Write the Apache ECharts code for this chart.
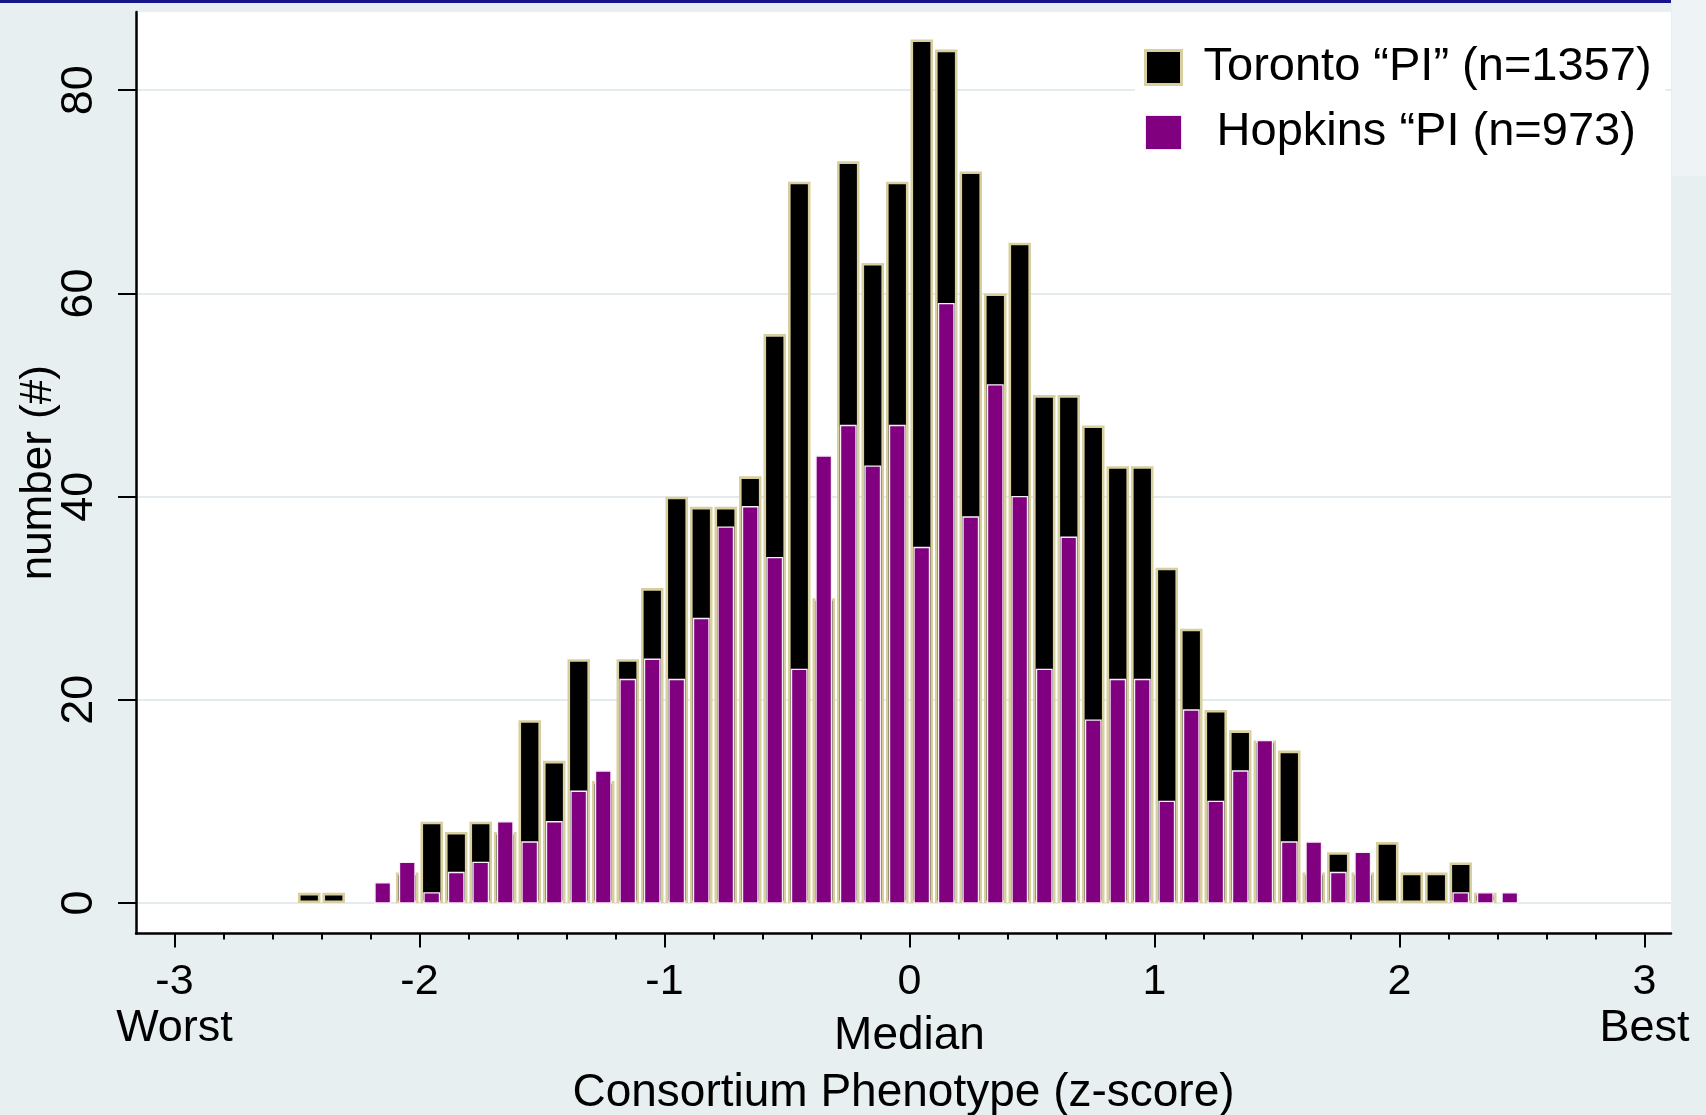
<!DOCTYPE html>
<html>
<head>
<meta charset="utf-8">
<script src="https://cdn.jsdelivr.net/npm/echarts@6/dist/echarts.min.js"></script>
<style>
  html, body { margin: 0; padding: 0; background: #e8eff1; }
  #chart { width: 1706px; height: 1115px; }
</style>
</head>
<body>
<div id="chart"></div>
<script>
// Histogram bins (z-score, bin width 0.1) and counts per cohort
const BIN_WIDTH = 0.1;
const binCenters = [
  -2.45, -2.35, -2.25, -2.15, -2.05, -1.95, -1.85, -1.75, -1.65, -1.55,
  -1.45, -1.35, -1.25, -1.15, -1.05, -0.95, -0.85, -0.75, -0.65, -0.55,
  -0.45, -0.35, -0.25, -0.15, -0.05, 0.05, 0.15, 0.25, 0.35, 0.45,
  0.55, 0.65, 0.75, 0.85, 0.95, 1.05, 1.15, 1.25, 1.35, 1.45,
  1.55, 1.65, 1.75, 1.85, 1.95, 2.05, 2.15, 2.25, 2.35, 2.45
];
const toronto = [
  1, 1, 0, 0, 3, 8, 7, 8, 7, 18,
  14, 24, 12, 24, 31, 40, 39, 39, 42, 56,
  71, 30, 73, 63, 71, 85, 84, 72, 60, 65,
  50, 50, 47, 43, 43, 33, 27, 19, 17, 16,
  15, 3, 5, 3, 6, 3, 3, 4, 1, 0
];
const hopkins = [
  0, 0, 0, 2, 4, 1, 3, 4, 8, 6,
  8, 11, 13, 22, 24, 22, 28, 37, 39, 34,
  23, 44, 47, 43, 47, 35, 59, 38, 51, 40,
  23, 36, 18, 22, 22, 10, 19, 10, 13, 16,
  6, 6, 3, 5, 0, 0, 0, 1, 1, 1
];

// Axis ticks and labels
const xTickValues = [-3, -2, -1, 0, 1, 2, 3];
const xTickLabels = ['-3', '-2', '-1', '0', '1', '2', '3'];
const xTickNotes = ['Worst', '', '', 'Median', '', '', 'Best'];
const xMinorTickValues = [
  -3, -2.8, -2.6, -2.4, -2.2, -2, -1.8, -1.6, -1.4, -1.2, -1,
  -0.8, -0.6, -0.4, -0.2, 0, 0.2, 0.4, 0.6, 0.8, 1,
  1.2, 1.4, 1.6, 1.8, 2, 2.2, 2.4, 2.6, 2.8, 3
];
const yTickValues = [0, 20, 40, 60, 80];

const TORONTO_NAME = 'Toronto \u201cPI\u201d (n=1357)';
const HOPKINS_NAME = ' Hopkins \u201cPI (n=973)';

const X_MIN = -3.157, X_MAX = 3.108;
const Y_MIN = -3, Y_MAX = 87.7;

const TAN = '#d8cf9f';
const PURPLE = '#800080';
const FONT = "'Liberation Sans', Arial, Helvetica, sans-serif";

// Wide black bars with a sand outline (drawn inside the bar edge)
function renderToronto(params, api) {
  const c = api.value(0), v = api.value(1);
  if (!v) return null;
  const tl = api.coord([c - BIN_WIDTH / 2, v]);
  const br = api.coord([c + BIN_WIDTH / 2, 0]);
  const gap = 2;
  const bw = 2.6;
  const x = tl[0] + gap / 2;
  const w = br[0] - tl[0] - gap;
  const h = br[1] - tl[1];
  return {
    type: 'rect',
    shape: { x: x + bw / 2, y: tl[1] + bw / 2, width: w - bw, height: h - bw },
    style: { fill: '#000', stroke: TAN, lineWidth: bw }
  };
}

// Narrow purple bars centred in each bin, thin white outline
function renderHopkins(params, api) {
  const c = api.value(0), v = api.value(1);
  if (!v) return null;
  const tl = api.coord([c - BIN_WIDTH / 2, v]);
  const br = api.coord([c + BIN_WIDTH / 2, 0]);
  const cx = (tl[0] + br[0]) / 2;
  const w = 15.5;
  return {
    type: 'rect',
    shape: { x: cx - w / 2, y: tl[1], width: w, height: br[1] - tl[1] },
    style: { fill: PURPLE, stroke: '#fbeefb', lineWidth: 1.4 }
  };
}

function xLabel(value) {
  const i = xTickValues.findIndex(t => Math.abs(t - value) < 1e-6);
  if (i < 0) return '';
  const note = xTickNotes[i];
  if (!note) return '{n|' + xTickLabels[i] + '}';
  const style = note === 'Median' ? 'm' : 's';
  return '{n|' + xTickLabels[i] + '}\n{' + style + '|' + note + '}';
}

const chart = echarts.init(document.getElementById('chart'), null, { renderer: 'canvas' });

const gridBox = { left: 136, right: 35, top: 12, bottom: 181.5, outerBoundsMode: 'none', containLabel: false };

chart.setOption({
  backgroundColor: '#e8eff1',
  animation: false,
  graphic: [
    { type: 'rect', left: 0, top: 0, shape: { width: 1671, height: 3 }, style: { fill: '#16168a' }, z: 10 },
    { type: 'rect', left: 1672, top: 0, shape: { width: 34, height: 176 }, style: { fill: '#eef4f5' }, z: 0 }
  ],
  grid: [
    Object.assign({ show: true, backgroundColor: '#ffffff', borderWidth: 0 }, gridBox),
    Object.assign({ show: false }, gridBox)
  ],
  legend: {
    orient: 'vertical',
    left: 1135,
    top: 22,
    padding: [22, 14, 20, 9],
    backgroundColor: '#ffffff',
    itemWidth: 36,
    itemHeight: 34,
    itemGap: 18,
    selectedMode: false,
    textStyle: {
      fontFamily: FONT, fontSize: 47, color: '#000', lineHeight: 34,
      padding: [0, 0, 6, 17]
    },
    data: [
      { name: TORONTO_NAME, icon: 'rect', itemStyle: { color: '#000', borderColor: TAN, borderWidth: 3 } },
      { name: HOPKINS_NAME, icon: 'rect', itemStyle: { color: PURPLE, borderColor: '#f3e3f3', borderWidth: 1 } }
    ]
  },
  xAxis: [
    {
      type: 'value', gridIndex: 0, position: 'bottom',
      min: X_MIN, max: X_MAX,
      axisLine: { show: true, onZero: false, lineStyle: { color: '#000', width: 2.5 } },
      axisTick: { show: true, customValues: xTickValues, length: 14, lineStyle: { color: '#000', width: 2 } },
      axisLabel: {
        customValues: xTickValues,
        margin: 26,
        color: '#000',
        fontFamily: FONT,
        formatter: xLabel,
        rich: {
          n: { fontFamily: FONT, fontSize: 43, lineHeight: 46, color: '#000' },
          s: { fontFamily: FONT, fontSize: 45, lineHeight: 46, color: '#000' },
          m: { fontFamily: FONT, fontSize: 46, lineHeight: 62, color: '#000' }
        }
      },
      splitLine: { show: false },
      name: 'Consortium Phenotype (z-score)',
      nameLocation: 'middle',
      nameGap: 137,
      nameMoveOverlap: false,
      nameTextStyle: { fontFamily: FONT, fontSize: 46, lineHeight: 46, color: '#000' }
    },
    {
      type: 'value', gridIndex: 1, position: 'bottom',
      min: X_MIN, max: X_MAX,
      axisLine: { show: false, onZero: false },
      axisTick: { show: true, customValues: xMinorTickValues, length: 6, lineStyle: { color: '#000', width: 2 } },
      axisLabel: { show: false },
      splitLine: { show: false }
    }
  ],
  yAxis: [
    {
      type: 'value', gridIndex: 0, position: 'left',
      min: Y_MIN, max: Y_MAX,
      axisLine: { show: true, onZero: false, lineStyle: { color: '#000', width: 2.5 } },
      axisTick: { show: true, customValues: yTickValues, length: 18, lineStyle: { color: '#000', width: 2 } },
      axisLabel: {
        customValues: yTickValues,
        rotate: 90,
        margin: 34,
        fontFamily: FONT,
        fontSize: 45,
        lineHeight: 45,
        color: '#000'
      },
      splitLine: { show: true, lineStyle: { color: '#e3ebee', width: 2 } },
      name: 'number (#)',
      nameLocation: 'middle',
      nameGap: 75,
      nameMoveOverlap: false,
      nameTextStyle: { fontFamily: FONT, fontSize: 44, lineHeight: 44, color: '#000' }
    },
    {
      type: 'value', gridIndex: 1, min: Y_MIN, max: Y_MAX, show: false
    }
  ],
  series: [
    {
      type: 'custom',
      name: TORONTO_NAME,
      xAxisIndex: 0, yAxisIndex: 0,
      itemStyle: { color: '#000', borderColor: TAN },
      encode: { x: 0, y: 1 },
      data: binCenters.map((c, i) => [c, toronto[i]]),
      renderItem: renderToronto,
      z: 2
    },
    {
      type: 'custom',
      name: HOPKINS_NAME,
      xAxisIndex: 0, yAxisIndex: 0,
      itemStyle: { color: PURPLE },
      encode: { x: 0, y: 1 },
      data: binCenters.map((c, i) => [c, hopkins[i]]),
      renderItem: renderHopkins,
      z: 3
    }
  ]
});
</script>
</body>
</html>
